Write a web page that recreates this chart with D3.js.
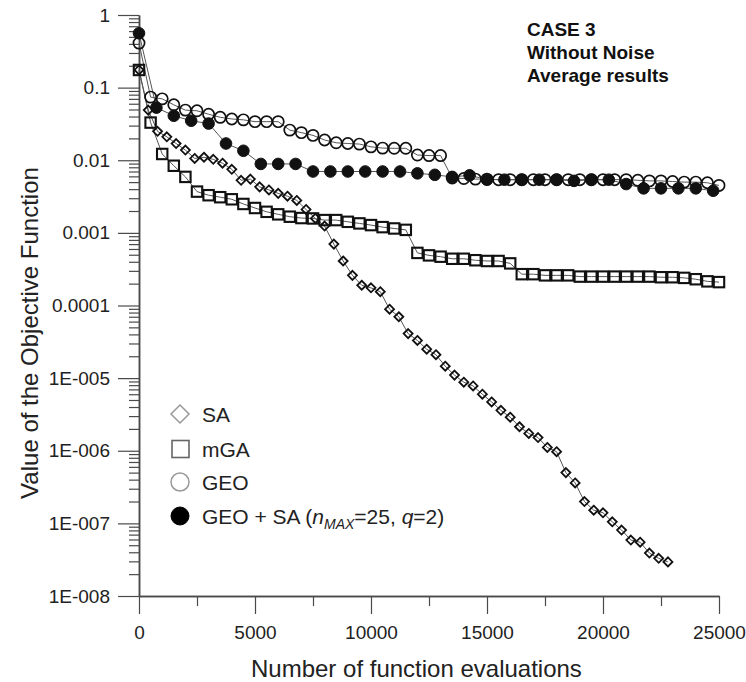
<!DOCTYPE html>
<html><head><meta charset="utf-8">
<script src="https://cdn.jsdelivr.net/npm/d3@7"></script>
<style>body{margin:0;background:#fff}svg{display:block}</style>
</head><body>
<script>
// ---- data ----
const xTickValues = [0, 5000, 10000, 15000, 20000, 25000];
const xMinorTicks = [2500, 7500, 12500, 17500, 22500];
const yTickValues = [1, 0.1, 0.01, 0.001, 0.0001, 1e-5, 1e-6, 1e-7, 1e-8];
const yTickLabels = ["1", "0.1", "0.01", "0.001", "0.0001", "1E-005", "1E-006", "1E-007", "1E-008"];

const saX = [0,400,800,1200,1600,2000,2400,2800,3200,3600,4000,4400,4800,5200,5600,6000,6400,6800,7200,7600,
  8000,8400,8800,9200,9600,10000,10400,10800,11200,11600,12000,12400,12800,13200,13600,14000,14400,14800,15200,15600,
  16000,16400,16800,17200,17600,18000,18400,18800,19200,19600,20000,20400,20800,21200,21600,22000,22400,22800];
const saY = [0.175,0.049,0.025,0.021,0.017,0.0138,0.0106,0.011,0.0103,0.0091,0.0075,0.0053,0.0055,0.0043,0.0039,0.0035,0.0032,0.0028,0.0021,0.00158,
  0.00124,0.0007,0.00041,0.00026,0.00019,0.000175,0.000155,0.000089,0.00007,0.000041,0.000033,0.000025,0.000021,0.0000146,0.000011,8.8e-6,7.8e-6,6.0e-6,4.7e-6,3.6e-6,
  2.9e-6,2.14e-6,1.73e-6,1.52e-6,1.11e-6,9.7e-7,5.0e-7,3.6e-7,2.0e-7,1.52e-7,1.4e-7,1.05e-7,8.1e-8,5.9e-8,5.5e-8,3.9e-8,3.3e-8,2.95e-8];

const mgaX = [0,500,1000,1500,2000,2500,3000,3500,4000,4500,5000,5500,6000,6500,7000,7500,8000,8500,9000,9500,
  10000,10500,11000,11500,12000,12500,13000,13500,14000,14500,15000,15500,16000,16500,17000,17500,18000,18500,19000,19500,
  20000,20500,21000,21500,22000,22500,23000,23500,24000,24500,25000];
const mgaY = [0.175,0.033,0.0122,0.0084,0.0059,0.0037,0.0033,0.0031,0.0029,0.0025,0.0022,0.00195,0.0018,0.00167,0.0016,0.00158,0.0015,0.0015,0.00142,0.00135,
  0.00128,0.0012,0.00115,0.0011,0.00053,0.00049,0.00047,0.00044,0.00044,0.00042,0.00041,0.00041,0.00038,0.00027,0.00027,0.00026,0.00026,0.00026,0.00025,0.00025,
  0.00025,0.00025,0.00025,0.00025,0.00025,0.000245,0.000245,0.00024,0.00023,0.000215,0.00021];

const geoX = [0,500,1000,1500,2000,2500,3000,3500,4000,4500,5000,5500,6000,6500,7000,7500,8000,8500,9000,9500,
  10000,10500,11000,11500,12000,12500,13000,13500,14000,14500,15000,15500,16000,16500,17000,17500,18000,18500,19000,19500,
  20000,20500,21000,21500,22000,22500,23000,23500,24000,24500,25000];
const geoY = [0.41,0.074,0.07,0.058,0.049,0.048,0.043,0.039,0.037,0.036,0.034,0.034,0.034,0.026,0.024,0.022,0.019,0.0174,0.017,0.0167,
  0.0153,0.0147,0.0146,0.0146,0.0118,0.0116,0.0116,0.0057,0.0056,0.0055,0.0055,0.0054,0.0054,0.0054,0.0054,0.0054,0.0054,0.0054,0.0054,0.0054,
  0.0054,0.0054,0.0054,0.0053,0.0052,0.0052,0.0051,0.005,0.005,0.0049,0.0045];

const hybX = [0,750,1500,2250,3000,3750,4500,5250,6000,6750,7500,8250,9000,9750,10500,11250,12000,12750,13500,14250,
  15000,15750,16500,17250,18000,18750,19500,20250,21000,21750,22500,23250,24000,24750];
const hybY = [0.56,0.053,0.041,0.035,0.032,0.017,0.0135,0.0089,0.0089,0.0089,0.007,0.007,0.007,0.007,0.007,0.007,0.0066,0.0063,0.0059,0.0062,
  0.0054,0.0054,0.0054,0.0054,0.0054,0.0052,0.0054,0.0054,0.0047,0.0041,0.0041,0.0041,0.0041,0.0038];

const legendNames = ["SA", "mGA", "GEO"];
const annotation = ["CASE 3", "Without Noise", "Average results"];

// ---- drawing ----
const W = 746, H = 682;
const FONT = "'Liberation Sans', Arial, sans-serif";
const svg = d3.select("body").append("svg").attr("width", W).attr("height", H)
  .style("font-family", FONT);

const x = d3.scaleLinear().domain([0, 25000]).range([139, 719]);
const y = d3.scaleLog().domain([1e-8, 1]).range([596, 15]);
const axisColor = "#4a4a4a";

// minor y ticks
const yMinor = [];
for (let e = -8; e < 0; e++) for (let m = 2; m <= 9; m++) yMinor.push(m * Math.pow(10, e));

const gy = svg.append("g").attr("transform", "translate(139,0)");
gy.call(d3.axisLeft(y).tickValues(yMinor).tickSize(10).tickSizeOuter(0).tickFormat(""));
gy.append("g").call(d3.axisLeft(y).tickValues(yTickValues).tickSize(21).tickSizeOuter(0)
  .tickPadding(8).tickFormat((d, i) => yTickLabels[i]));
gy.selectAll("path.domain").attr("stroke", axisColor).attr("stroke-width", 1.5);
gy.selectAll("line").attr("stroke", axisColor).attr("stroke-width", 1.2);
gy.selectAll("text").attr("font-size", 19).attr("fill", "#222").style("font-family", FONT);

const gx = svg.append("g").attr("transform", "translate(0,596)");
gx.call(d3.axisBottom(x).tickValues(xMinorTicks).tickSize(10).tickSizeOuter(0).tickFormat(""));
gx.append("g").call(d3.axisBottom(x).tickValues(xTickValues).tickSize(18).tickSizeOuter(0)
  .tickPadding(12).tickFormat(d3.format("d")));
gx.selectAll("path.domain").attr("stroke", axisColor).attr("stroke-width", 1.5);
gx.selectAll("line").attr("stroke", axisColor).attr("stroke-width", 1.2);
gx.selectAll("text").attr("font-size", 19).attr("fill", "#222").style("font-family", FONT);

// axis titles
svg.append("text").attr("x", 251).attr("y", 677).attr("font-size", 24).attr("fill", "#222")
  .text("Number of function evaluations");
svg.append("text").attr("transform", "translate(38,333) rotate(-90)").attr("text-anchor", "middle")
  .attr("font-size", 24).attr("fill", "#222").text("Value of the Objective Function");

// series
const line = d3.line().x(d => x(d[0])).y(d => y(d[1]));
const zip = (xs, ys) => xs.map((v, i) => [v, ys[i]]);
const series = [
  { data: zip(saX, saY), type: "diamond" },
  { data: zip(mgaX, mgaY), type: "square" },
  { data: zip(hybX, hybY), type: "filled" },
  { data: zip(geoX, geoY), type: "circle" }
];
const markColor = "#111";
series.forEach(s => {
  svg.append("path").datum(s.data).attr("d", line).attr("fill", "none")
    .attr("stroke", "#555").attr("stroke-width", 1);
});
function drawMarker(g, type, cx, cy, sz, stroke, sw) {
  if (type === "diamond") {
    const r = sz;
    g.append("path").attr("d", `M${cx},${cy - r}L${cx + r},${cy}L${cx},${cy + r}L${cx - r},${cy}Z`)
      .attr("fill", "none").attr("stroke", stroke).attr("stroke-width", sw);
  } else if (type === "square") {
    g.append("rect").attr("x", cx - sz).attr("y", cy - sz).attr("width", 2 * sz).attr("height", 2 * sz)
      .attr("fill", "none").attr("stroke", stroke).attr("stroke-width", sw);
  } else if (type === "circle") {
    g.append("circle").attr("cx", cx).attr("cy", cy).attr("r", sz)
      .attr("fill", "none").attr("stroke", stroke).attr("stroke-width", sw);
  } else {
    g.append("circle").attr("cx", cx).attr("cy", cy).attr("r", sz)
      .attr("fill", stroke).attr("stroke", stroke).attr("stroke-width", sw);
  }
}
const sizes = { diamond: 4.5, square: 5.2, circle: 5.6, filled: 5.8 };
const sw = { diamond: 1.8, square: 2.1, circle: 1.7, filled: 1 };
series.forEach(s => {
  const g = svg.append("g");
  s.data.forEach(d => drawMarker(g, s.type, x(d[0]), y(d[1]), sizes[s.type], markColor, sw[s.type]));
});

// legend
const leg = svg.append("g");
const legY = [414, 449, 482, 516];
drawMarker(leg, "diamond", 180, legY[0], 9, "#999", 1.5);
drawMarker(leg, "square", 180.5, legY[1], 8.5, "#666", 1.6);
drawMarker(leg, "circle", 180, legY[2], 9, "#999", 1.5);
drawMarker(leg, "filled", 180, legY[3], 9, "#000", 1);
legendNames.forEach((n, i) => {
  leg.append("text").attr("x", 202).attr("y", legY[i] + 7.5).attr("font-size", 21).attr("fill", "#222").text(n);
});
const t4 = leg.append("text").attr("x", 202).attr("y", legY[3] + 7.5).attr("font-size", 21).attr("fill", "#222");
t4.append("tspan").text("GEO + SA (");
t4.append("tspan").attr("font-style", "italic").text("n");
t4.append("tspan").attr("font-style", "italic").attr("font-size", 14).attr("dy", 5).text("MAX");
t4.append("tspan").attr("dy", -5).text("=25, ");
t4.append("tspan").attr("font-style", "italic").text("q");
t4.append("tspan").text("=2)");

// annotation
annotation.forEach((t, i) => {
  svg.append("text").attr("x", 527).attr("y", 36 + i * 23).attr("font-size", 19)
    .attr("font-weight", "bold").attr("fill", "#111").text(t);
});
</script>
</body></html>
